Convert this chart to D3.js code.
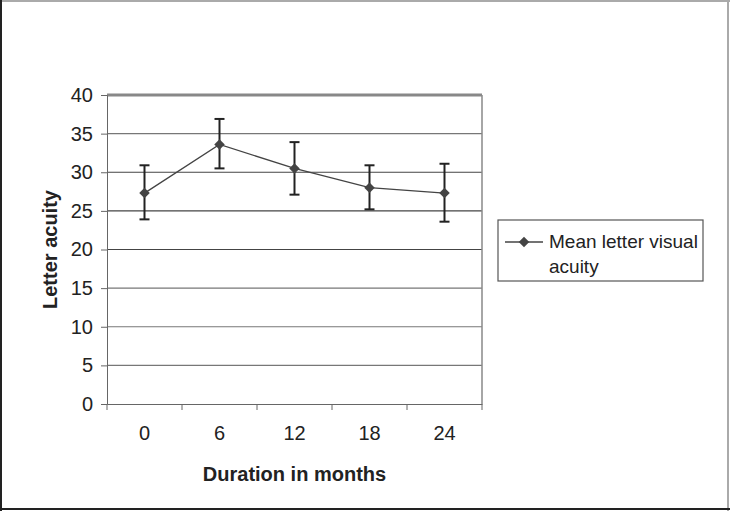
<!DOCTYPE html>
<html>
<head>
<meta charset="utf-8">
<script src="https://cdn.jsdelivr.net/npm/d3@7"></script>
<style>
  body { margin: 0; background: #fff; }
  svg { display: block; font-family: "Liberation Sans", Arial, sans-serif; }
</style>
</head>
<body>
<div id="chart"></div>
<script>
// data
var months = ["0", "6", "12", "18", "24"];
var meanAcuity = [27.3, 33.6, 30.5, 28.0, 27.3];
var errUpper = [30.9, 36.9, 33.9, 30.9, 31.1];
var errLower = [23.9, 30.5, 27.1, 25.2, 23.6];
var yTicks = [0, 5, 10, 15, 20, 25, 30, 35, 40];

var width = 730,
  height = 511,
  margin = {top: 95, right: 248, bottom: 107, left: 107},
  innerWidth = width - margin.left - margin.right,
  innerHeight = height - margin.top - margin.bottom;

var svg = d3.select("#chart").append("svg")
  .attr("width", width)
  .attr("height", height);

// outer frame
svg.append("rect").attr("x", 0).attr("y", 0).attr("width", width).attr("height", height).attr("fill", "#fff");
svg.append("line").attr("x1", 0).attr("x2", width).attr("y1", 1).attr("y2", 1).attr("stroke", "#aaa").attr("stroke-width", 2);
svg.append("line").attr("x1", width - 2).attr("x2", width - 2).attr("y1", 0).attr("y2", height).attr("stroke", "#aaa").attr("stroke-width", 2);
svg.append("line").attr("x1", 1).attr("x2", 1).attr("y1", 0).attr("y2", height).attr("stroke", "#222").attr("stroke-width", 2);
svg.append("line").attr("x1", 0).attr("x2", width).attr("y1", height - 2).attr("y2", height - 2).attr("stroke", "#222").attr("stroke-width", 2);

var g = svg.append("g")
  .attr("transform", "translate(" + margin.left + "," + margin.top + ")");

var x = d3.scaleBand().domain(months).range([0, innerWidth]);
var y = d3.scaleLinear().domain([0, 40]).range([innerHeight, 0]);

// gridlines
g.selectAll(".grid")
  .data(yTicks.filter(function(d) { return d > 0; }))
  .enter().append("line")
  .attr("class", "grid")
  .attr("x1", 0).attr("x2", innerWidth)
  .attr("y1", function(d) { return y(d); })
  .attr("y2", function(d) { return y(d); })
  .attr("stroke", function(d) { return d == 40 ? "#888" : (d >= 20 && d <= 30 ? "#444" : "#777"); })
  .attr("stroke-width", function(d) { return d == 40 ? 3 : 1.2; });

// right border of plot
g.append("line")
  .attr("x1", innerWidth).attr("x2", innerWidth)
  .attr("y1", 0).attr("y2", innerHeight)
  .attr("stroke", "#888").attr("stroke-width", 1.5);

// y axis
var yAxis = g.append("g")
  .call(d3.axisLeft(y).tickValues(yTicks).tickSize(6).tickPadding(8));
yAxis.select(".domain").attr("stroke", "#666");
yAxis.selectAll(".tick line").attr("stroke", "#666");
yAxis.selectAll("text")
  .attr("fill", "#222")
  .style("font-size", "20px")
  .style("font-family", "Liberation Sans, Arial, sans-serif");

// x axis, ticks between categories
var xAxis = g.append("g")
  .attr("transform", "translate(0," + innerHeight + ")")
  .call(d3.axisBottom(x).tickSize(0).tickPadding(22));
xAxis.select(".domain").attr("stroke", "#666");
xAxis.selectAll("text")
  .attr("fill", "#222")
  .style("font-size", "20px")
  .style("font-family", "Liberation Sans, Arial, sans-serif");
xAxis.selectAll(".sep")
  .data(d3.range(months.length + 1))
  .enter().append("line")
  .attr("class", "sep")
  .attr("x1", function(i) { return i * x.step(); })
  .attr("x2", function(i) { return i * x.step(); })
  .attr("y1", 0).attr("y2", 6)
  .attr("stroke", "#666");

// axis titles
svg.append("text")
  .attr("transform", "translate(57," + (margin.top + innerHeight / 2) + ") rotate(-90)")
  .attr("text-anchor", "middle")
  .attr("fill", "#222")
  .style("font-size", "20px")
  .style("font-weight", "bold")
  .text("Letter acuity");

svg.append("text")
  .attr("x", margin.left + innerWidth / 2)
  .attr("y", 481)
  .attr("text-anchor", "middle")
  .attr("fill", "#222")
  .style("font-size", "20px")
  .style("font-weight", "bold")
  .text("Duration in months");

function cx(i) { return x(months[i]) + x.bandwidth() / 2; }

// error bars
var eb = g.selectAll(".err")
  .data(meanAcuity)
  .enter().append("g")
  .attr("class", "err")
  .attr("stroke", "#222")
  .attr("stroke-width", 2);
eb.append("line")
  .attr("x1", function(d, i) { return cx(i); })
  .attr("x2", function(d, i) { return cx(i); })
  .attr("y1", function(d, i) { return y(errUpper[i]); })
  .attr("y2", function(d, i) { return y(errLower[i]); });
eb.append("line")
  .attr("x1", function(d, i) { return cx(i) - 5; })
  .attr("x2", function(d, i) { return cx(i) + 5; })
  .attr("y1", function(d, i) { return y(errUpper[i]); })
  .attr("y2", function(d, i) { return y(errUpper[i]); });
eb.append("line")
  .attr("x1", function(d, i) { return cx(i) - 5; })
  .attr("x2", function(d, i) { return cx(i) + 5; })
  .attr("y1", function(d, i) { return y(errLower[i]); })
  .attr("y2", function(d, i) { return y(errLower[i]); });

// mean line
var line = d3.line()
  .x(function(d, i) { return cx(i); })
  .y(function(d) { return y(d); });
g.append("path")
  .datum(meanAcuity)
  .attr("d", line)
  .attr("fill", "none")
  .attr("stroke", "#444")
  .attr("stroke-width", 1.3);

var diamond = d3.symbol().type(d3.symbolDiamond2).size(70);
g.selectAll(".pt")
  .data(meanAcuity)
  .enter().append("path")
  .attr("class", "pt")
  .attr("d", diamond)
  .attr("transform", function(d, i) { return "translate(" + cx(i) + "," + y(d) + ")"; })
  .attr("fill", "#444");

// legend
var lg = svg.append("g").attr("transform", "translate(498,220)");
lg.append("rect")
  .attr("width", 205).attr("height", 61)
  .attr("fill", "#fff").attr("stroke", "#555").attr("stroke-width", 1.2);
lg.append("line")
  .attr("x1", 7).attr("x2", 45).attr("y1", 22).attr("y2", 22)
  .attr("stroke", "#444").attr("stroke-width", 1.3);
lg.append("path")
  .attr("d", diamond)
  .attr("transform", "translate(26,22)")
  .attr("fill", "#444");
lg.append("text")
  .attr("x", 51).attr("y", 28)
  .attr("fill", "#222")
  .style("font-size", "19px")
  .text("Mean letter visual");
lg.append("text")
  .attr("x", 51).attr("y", 53)
  .attr("fill", "#222")
  .style("font-size", "19px")
  .text("acuity");
</script>
</body>
</html>
